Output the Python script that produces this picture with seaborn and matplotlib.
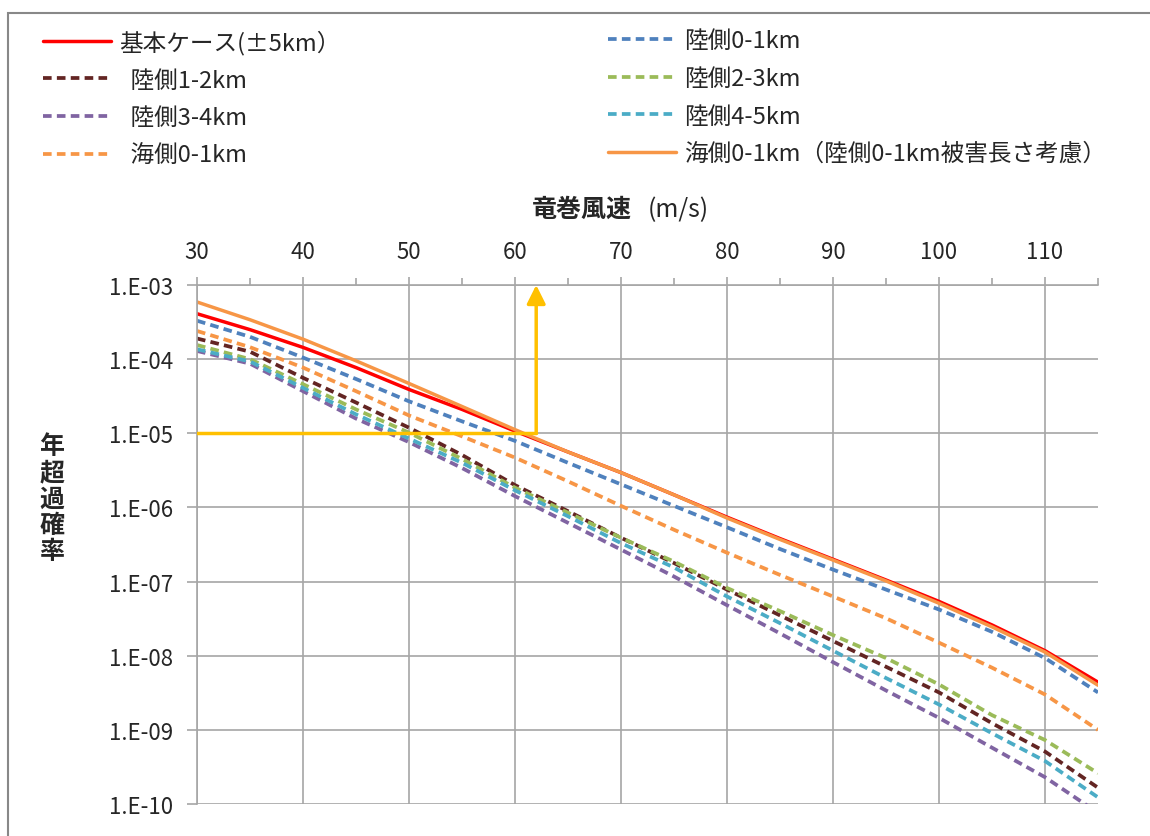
import math

import matplotlib
matplotlib.use("Agg")
import matplotlib.pyplot as plt
import matplotlib.ticker as mticker
import seaborn as sns
from matplotlib.lines import Line2D
from matplotlib.patches import Rectangle

# wind speed (m/s)
speed = [30, 35, 40, 45, 50, 55, 60, 65, 70, 75, 80, 85, 90, 95, 100, 105, 110, 115]

base = [4.1e-4, 2.5e-4, 1.44e-4, 7.7e-5, 3.9e-5, 2.1e-5, 1.07e-5, 5.6e-6, 2.95e-6, 1.48e-6,
        7.4e-7, 3.8e-7, 2.0e-7, 1.05e-7, 5.4e-8, 2.6e-8, 1.17e-8, 4.4e-9]
land_0_1 = [3.3e-4, 2.0e-4, 1.05e-4, 5.4e-5, 2.7e-5, 1.45e-5, 7.9e-6, 4.0e-6, 2.05e-6, 1.05e-6,
            5.4e-7, 2.75e-7, 1.45e-7, 7.8e-8, 4.2e-8, 2.1e-8, 9.3e-9, 3.2e-9]
land_1_2 = [1.9e-4, 1.26e-4, 5.6e-5, 2.6e-5, 1.19e-5, 5.1e-6, 2.0e-6, 8.9e-7, 3.9e-7, 1.78e-7,
            7.8e-8, 3.5e-8, 1.58e-8, 7.1e-9, 3.2e-9, 1.23e-9, 5.1e-10, 1.66e-10]
land_2_3 = [1.55e-4, 1.0e-4, 4.6e-5, 2.1e-5, 1.02e-5, 4.5e-6, 1.85e-6, 8.5e-7, 3.9e-7, 1.86e-7,
            8.2e-8, 4.0e-8, 1.9e-8, 9.3e-9, 4.1e-9, 1.58e-9, 7.3e-10, 2.6e-10]
land_3_4 = [1.29e-4, 8.7e-5, 3.7e-5, 1.58e-5, 7.6e-6, 3.4e-6, 1.42e-6, 6.2e-7, 2.7e-7, 1.17e-7,
            4.8e-8, 2.0e-8, 8.2e-9, 3.4e-9, 1.45e-9, 5.75e-10, 2.3e-10, 7.6e-11]
land_4_5 = [1.36e-4, 9.3e-5, 4.1e-5, 1.8e-5, 8.5e-6, 4.0e-6, 1.7e-6, 7.6e-7, 3.3e-7, 1.55e-7,
            6.3e-8, 2.75e-8, 1.17e-8, 5.0e-9, 2.2e-9, 9.0e-10, 3.8e-10, 1.23e-10]
sea_0_1 = [2.4e-4, 1.45e-4, 7.7e-5, 3.7e-5, 1.74e-5, 9.1e-6, 4.7e-6, 2.25e-6, 1.05e-6, 5.0e-7,
           2.45e-7, 1.23e-7, 6.3e-8, 3.2e-8, 1.5e-8, 6.9e-9, 3.0e-9, 1.0e-9]
sea_0_1_adj = [5.9e-4, 3.4e-4, 1.86e-4, 9.5e-5, 4.7e-5, 2.3e-5, 1.12e-5, 5.6e-6, 2.95e-6, 1.48e-6,
               7.2e-7, 3.7e-7, 1.95e-7, 1.02e-7, 5.1e-8, 2.45e-8, 1.12e-8, 4.0e-9]

labels = ["基本ケース(±5km）", "陸側0-1km", "  陸側1-2km", "陸側2-3km", "  陸側3-4km",
          "陸側4-5km", "  海側0-1km", "海側0-1km（陸側0-1km被害長さ考慮）"]
y_ticks = [1e-10, 1e-9, 1e-8, 1e-7, 1e-6, 1e-5, 1e-4, 1e-3]

# reference line: 1e-5 per year -> ~62 m/s
target_prob = 1e-5
target_speed = 62

sns.set_style("white")
plt.rcParams["font.family"] = ["Noto Sans CJK JP", "DejaVu Sans"]

fig = plt.figure(figsize=(11.5, 8.37), dpi=100)
ax = fig.add_axes([0.1713, 0.0382, 0.7835, 0.6201])
ax.set_yscale("log")

dash = (0, (2.3, 1.4))
series = [
    (base, "#FF0000", "-", 2.5),
    (land_0_1, "#4F81BD", dash, 2.7),
    (land_1_2, "#632523", dash, 2.7),
    (land_2_3, "#9BBB59", dash, 2.7),
    (land_3_4, "#8064A2", dash, 2.7),
    (land_4_5, "#4BACC6", dash, 2.7),
    (sea_0_1, "#F79646", dash, 2.7),
    (sea_0_1_adj, "#F79646", "-", 2.5),
]
handles = []
for (vals, col, ls, lw), lab in zip(series, labels):
    sns.lineplot(x=speed, y=vals, ax=ax, color=col, linestyle=ls, linewidth=lw,
                 estimator=None, legend=False)
    handles.append(Line2D([], [], color=col, linestyle=ls, linewidth=lw))

# yellow guide lines
ax.plot([speed[0], target_speed], [target_prob, target_prob], color="#FFC000", lw=2.5, zorder=5)
ax.annotate("", xy=(target_speed, y_ticks[-1]), xytext=(target_speed, target_prob),
            arrowprops=dict(arrowstyle="-|>", color="#FFC000", lw=2.5,
                            mutation_scale=28, shrinkA=0, shrinkB=0), zorder=5)

ax.set_xlim(30, 115)
ax.set_ylim(y_ticks[0], y_ticks[-1])
ax.xaxis.tick_top()
ax.xaxis.set_major_locator(mticker.MultipleLocator(10))
ax.xaxis.set_minor_locator(mticker.MultipleLocator(5))
ax.yaxis.set_major_locator(mticker.FixedLocator(y_ticks))
ax.yaxis.set_minor_locator(mticker.NullLocator())
ax.yaxis.set_major_formatter(
    mticker.FuncFormatter(lambda v, p: "1.E-%02d" % round(-math.log10(v))))

gridc = "#a6a6a6"
ax.grid(True, which="major", color=gridc, lw=1.2)
ax.tick_params(axis="x", which="both", top=True, bottom=False, direction="out",
               color=gridc, width=1.2, labelsize=16, pad=10)
ax.tick_params(axis="x", which="major", length=6)
ax.tick_params(axis="x", which="minor", length=5)
ax.tick_params(axis="y", which="major", left=True, direction="out", length=7,
               color=gridc, width=1.2, labelsize=16, pad=10)
for side in ["right", "bottom"]:
    ax.spines[side].set_visible(False)
for side in ["top", "left"]:
    ax.spines[side].set_color(gridc)
    ax.spines[side].set_linewidth(1.2)

# axis titles (x title: bold kanji, plain unit)
fig.text(0.5496, 0.749, "竜巻風速", ha="right", va="center", fontsize=18, fontweight="bold")
fig.text(0.5635, 0.749, "(m/s)", ha="left", va="center", fontsize=18)
fig.text(0.045, 0.403, "年\n超\n過\n確\n率", ha="center", va="center", fontsize=18,
         fontweight="bold", linespacing=1.12)

# legend in two columns
leg_kw = dict(frameon=False, fontsize=17, handlelength=2.9, handletextpad=0.35,
              labelspacing=0.62, borderpad=0, loc="upper left")
fig.legend([handles[i] for i in (0, 2, 4, 6)], [labels[i] for i in (0, 2, 4, 6)],
           bbox_to_anchor=(0.027, 0.978), **leg_kw)
fig.legend([handles[i] for i in (1, 3, 5, 7)], [labels[i] for i in (1, 3, 5, 7)],
           bbox_to_anchor=(0.518, 0.978), **leg_kw)

fig.patches.append(Rectangle((8 / 1150, -0.05), 1.2, 1 - 14 / 837 + 0.05,
                             transform=fig.transFigure, fill=False,
                             edgecolor="#888888", lw=1.5))

fig.savefig("out.png", dpi=100)
